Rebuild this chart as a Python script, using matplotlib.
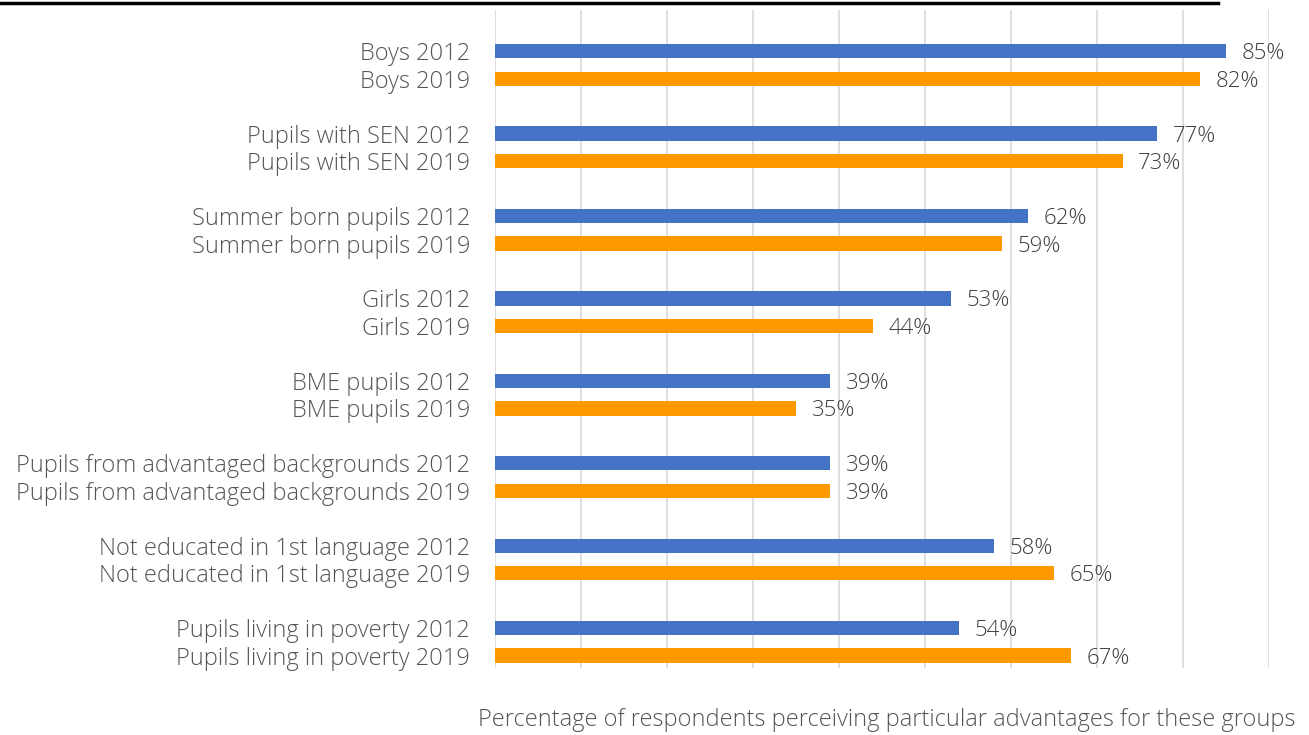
import numpy as np
import matplotlib.pyplot as plt
from matplotlib.lines import Line2D

plt.rcParams['font.family'] = ['Open Sans', 'DejaVu Sans']

groups = ["Boys", "Pupils with SEN", "Summer born pupils", "Girls", "BME pupils",
          "Pupils from advantaged backgrounds", "Not educated in 1st language",
          "Pupils living in poverty"]
vals_2012 = [85, 77, 62, 53, 39, 39, 58, 54]
vals_2019 = [82, 73, 59, 44, 35, 39, 65, 67]
years = ["2012", "2019"]
colors = ["#4472C4", "#FF9900"]
grid_ticks = np.arange(0, 100, 10)

txt = "#555555"
fs = 17

fig = plt.figure(figsize=(13.09, 7.35), dpi=100)
ax = fig.add_axes([495/1309, 1-668/735, (1269-495)/1309, (668-10)/735])

pos, labels = [], []
for g, name in enumerate(groups):
    for k, (vals, yr) in enumerate(zip([vals_2012, vals_2019], years)):
        y = 3*g + k
        ax.barh(y, vals[g], height=0.52, color=colors[k], zorder=3)
        ax.text(vals[g] + 1.8, y, f"{vals[g]}%", va="center_baseline", ha="left",
                fontsize=16, color="#404040", fontweight="light")
        pos.append(y)
        labels.append(f"{name} {yr}")

ax.set_ylim(3*7 + 1 + 0.45, -1.5)
ax.set_xlim(0, 90)
ax.set_yticks(pos)
ax.set_yticklabels(labels, fontsize=fs, color=txt, fontweight="light")
ax.tick_params(axis="y", length=0, pad=18)
ax.set_xticks(grid_ticks)
ax.set_xticklabels([])
ax.tick_params(axis="x", length=0)
ax.grid(axis="x", color="#D9D9D9", linewidth=1.2, zorder=0)
for s in ax.spines.values():
    s.set_visible(False)

fig.text(1296/1309, 1-720/735, "Percentage of respondents perceiving particular advantages for these groups",
         ha="right", va="center", fontsize=fs, color=txt, fontweight="light")
fig.add_artist(Line2D([0, 1218/1309], [1-3/735, 1-3/735], color="black", linewidth=2.5,
                      transform=fig.transFigure))

fig.savefig("out.png", dpi=100)
